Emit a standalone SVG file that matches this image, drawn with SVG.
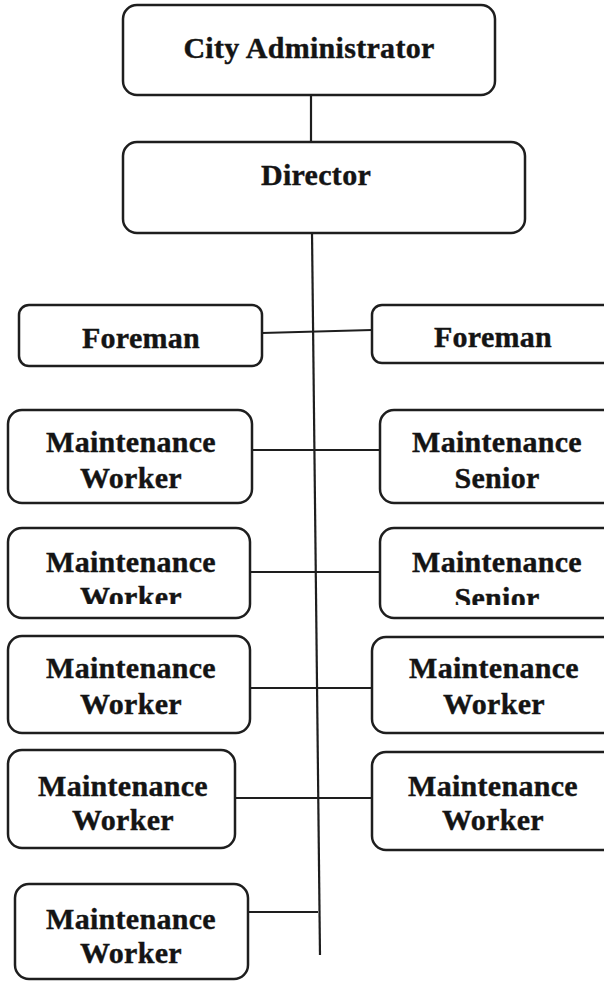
<svg xmlns="http://www.w3.org/2000/svg" width="604" height="981" viewBox="0 0 604 981">
<style>
.box{fill:#fff;stroke:#1e1e1e;stroke-width:2.5}
.lbl{font-family:"Liberation Serif","Times New Roman",serif;font-weight:bold;font-size:30px;letter-spacing:0.3px;fill:#141414;stroke:#141414;stroke-width:0.4;text-anchor:middle}
.con{stroke:#1e1e1e;stroke-width:2.2;fill:none}
</style>
<defs>
<clipPath id="clipL"><rect x="0" y="520" width="260" height="84"/></clipPath>
<clipPath id="clipR"><rect x="370" y="520" width="234" height="85"/></clipPath>
</defs>
<rect width="604" height="981" fill="#fff"/>
<g id="connectors">
<line class="con" x1="311" y1="95" x2="311" y2="142"/>
<line class="con" x1="312" y1="232" x2="320" y2="955"/>
<line class="con" x1="262" y1="333" x2="372" y2="330"/>
<line class="con" x1="252" y1="450" x2="380" y2="450"/>
<line class="con" x1="250" y1="572" x2="380" y2="572"/>
<line class="con" x1="250" y1="688" x2="372" y2="688"/>
<line class="con" x1="235" y1="798" x2="372" y2="798"/>
<line class="con" x1="248" y1="912" x2="318" y2="912"/>
</g>
<g id="city-administrator">
<rect class="box" x="123" y="5" width="372" height="90" rx="14"/>
<text class="lbl" x="309" y="58">City Administrator</text>
</g>
<g id="director">
<rect class="box" x="123" y="142" width="402" height="91" rx="14"/>
<text class="lbl" x="316" y="185">Director</text>
</g>
<g id="foreman-left">
<rect class="box" x="19" y="305" width="243" height="61" rx="10"/>
<text class="lbl" x="141" y="348">Foreman</text>
</g>
<g id="foreman-right">
<rect class="box" x="372" y="305" width="250" height="58" rx="10"/>
<text class="lbl" x="493" y="347">Foreman</text>
</g>
<g id="worker-1">
<rect class="box" x="8" y="410" width="244" height="93" rx="14"/>
<text class="lbl" x="131" y="452">Maintenance</text>
<text class="lbl" x="131" y="488">Worker</text>
</g>
<g id="senior-1">
<rect class="box" x="380" y="410" width="240" height="93" rx="14"/>
<text class="lbl" x="497" y="452">Maintenance</text>
<text class="lbl" x="497" y="488">Senior</text>
</g>
<g id="worker-2">
<rect class="box" x="8" y="528" width="242" height="90" rx="14"/>
<text class="lbl" x="131" y="572">Maintenance</text>
<text class="lbl" x="131" y="607" clip-path="url(#clipL)">Worker</text>
</g>
<g id="senior-2">
<rect class="box" x="380" y="528" width="240" height="90" rx="14"/>
<text class="lbl" x="497" y="572">Maintenance</text>
<text class="lbl" x="497" y="608" clip-path="url(#clipR)">Senior</text>
</g>
<g id="worker-3">
<rect class="box" x="8" y="636" width="242" height="97" rx="14"/>
<text class="lbl" x="131" y="678">Maintenance</text>
<text class="lbl" x="131" y="714">Worker</text>
</g>
<g id="worker-4">
<rect class="box" x="372" y="637" width="250" height="96" rx="14"/>
<text class="lbl" x="494" y="678">Maintenance</text>
<text class="lbl" x="494" y="714">Worker</text>
</g>
<g id="worker-5">
<rect class="box" x="8" y="750" width="227" height="98" rx="14"/>
<text class="lbl" x="123" y="796">Maintenance</text>
<text class="lbl" x="123" y="830">Worker</text>
</g>
<g id="worker-6">
<rect class="box" x="372" y="752" width="250" height="98" rx="14"/>
<text class="lbl" x="493" y="796">Maintenance</text>
<text class="lbl" x="493" y="830">Worker</text>
</g>
<g id="worker-7">
<rect class="box" x="15" y="884" width="233" height="95" rx="14"/>
<text class="lbl" x="131" y="929">Maintenance</text>
<text class="lbl" x="131" y="963">Worker</text>
</g>
</svg>
